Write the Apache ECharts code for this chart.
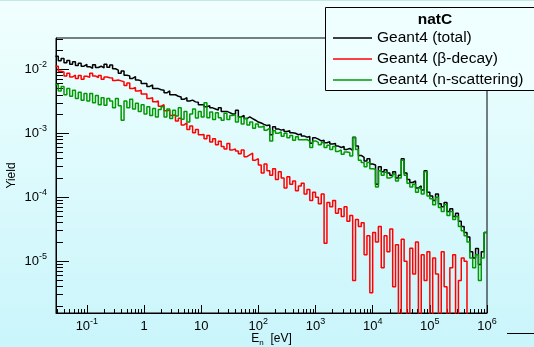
<!DOCTYPE html>
<html><head><meta charset="utf-8">
<script src="https://cdn.jsdelivr.net/npm/echarts@6/dist/echarts.min.js"></script>
<style>html,body{margin:0;padding:0;background:#fff}#c{width:534px;height:347px}</style>
</head><body><div id="c"></div>
<script>
// Histogram binning: log10(E/eV) of first bin edge and bin width (decades)
const binStartExp = -1.55;
const binWidthExp = 0.05;

// Yield per bin (151 bins)
const total = [
1.6e-2,1.36e-2,1.48e-2,1.27e-2,1.38e-2,1.2e-2,1.32e-2,1.15e-2,1.25e-2,1.12e-2,1.2e-2,
1.1e-2,1.04e-2,1.18e-2,1.07e-2,1.12e-2,1.05e-2,1.2e-2,1.08e-2,1.17e-2,1.02e-2,9.7e-3,8.7e-3,9.4e-3,8.1e-3,7.9e-3,7.2e-3,7.7e-3,6.8e-3,6.6e-3,6.0e-3,
6.0e-3,5.4e-3,5.7e-3,5.0e-3,5.0e-3,4.8e-3,4.7e-3,4.3e-3,4.6e-3,4.0e-3,4.0e-3,3.8e-3,3.7e-3,3.4e-3,3.6e-3,3.2e-3,3.3e-3,3.1e-3,3.05e-3,2.8e-3,
2.8e-3,2.6e-3,2.7e-3,2.5e-3,2.4e-3,2.3e-3,2.5e-3,2.2e-3,2.2e-3,2.1e-3,2.0e-3,2.0e-3,2.3e-3,1.8e-3,1.9e-3,1.7e-3,1.8e-3,1.7e-3,1.6e-3,1.5e-3,
1.45e-3,1.38e-3,1.32e-3,1.35e-3,9.5e-4,1.26e-3,1.17e-3,1.12e-3,1.15e-3,1.07e-3,1.10e-3,1.02e-3,1.0e-3,9.5e-4,9.8e-4,9.1e-4,8.7e-4,8.9e-4,7.0e-4,8.5e-4,
8.1e-4,7.6e-4,7.8e-4,7.1e-4,7.4e-4,6.8e-4,6.9e-4,6.3e-4,6.0e-4,6.2e-4,5.6e-4,5.8e-4,5.4e-4,8.7e-4,6.3e-4,4.5e-4,4.2e-4,3.7e-4,4.0e-4,3.3e-4,
3.2e-4,1.6e-4,3.0e-4,2.5e-4,2.7e-4,2.4e-4,2.2e-4,2.5e-4,2.0e-4,2.2e-4,4.0e-4,2.4e-4,1.9e-4,1.7e-4,1.8e-4,1.4e-4,1.5e-4,1.3e-4,2.6e-4,1.2e-4,
1.05e-4,8.9e-5,1.12e-4,7.9e-5,7.1e-5,8.3e-5,6.0e-5,6.6e-5,5.0e-5,5.6e-5,4.2e-5,3.5e-5,2.8e-5,2.4e-5,1.4e-5,1.12e-5,1.58e-5,8.9e-6,1.4e-5,2.8e-5
];
const betaDecay = [
1.12e-2,9.3e-3,9.1e-3,7.9e-3,8.7e-3,7.6e-3,8.1e-3,7.2e-3,8.0e-3,7.0e-3,7.8e-3,
7.5e-3,8.7e-3,7.9e-3,7.4e-3,8.0e-3,7.0e-3,7.6e-3,7.4e-3,7.3e-3,6.7e-3,6.8e-3,6.6e-3,6.4e-3,5.6e-3,6.1e-3,5.0e-3,5.2e-3,4.6e-3,4.7e-3,4.1e-3,
4.1e-3,3.5e-3,3.6e-3,3.1e-3,3.2e-3,2.65e-3,2.8e-3,2.25e-3,2.3e-3,1.9e-3,1.95e-3,1.55e-3,1.72e-3,1.35e-3,1.45e-3,1.15e-3,1.3e-3,1.02e-3,1.15e-3,9.5e-4,
9.6e-4,8.2e-4,9.2e-4,7.3e-4,8.2e-4,6.6e-4,7.5e-4,6.2e-4,5.7e-4,6.9e-4,5.5e-4,5.7e-4,5.3e-4,4.8e-4,5.5e-4,4.3e-4,4.6e-4,4.9e-4,3.8e-4,4.0e-4,
3.2e-4,2.4e-4,3.3e-4,2.6e-4,2.2e-4,2.8e-4,1.9e-4,2.5e-4,2.0e-4,1.4e-4,2.1e-4,1.6e-4,1.8e-4,1.26e-4,1.5e-4,1.66e-4,1.12e-4,1.32e-4,8.9e-5,1.2e-4,
1.0e-4,7.9e-5,1.12e-4,1.9e-5,8.3e-5,7.1e-5,8.9e-5,5.6e-5,6.6e-5,5.0e-5,7.1e-5,4.2e-5,5.2e-5,5.0e-6,4.5e-5,3.5e-5,4.0e-5,1.26e-5,2.5e-5,3.2e-6,
2.8e-5,2.0e-5,3.5e-5,7.9e-6,2.5e-5,1.4e-5,3.2e-5,4.0e-6,1.8e-5,0,2.2e-5,1.0e-5,0,1.6e-5,6.3e-6,2.0e-5,0,1.26e-5,5.0e-6,1.4e-5,
0,1.12e-5,6.3e-6,0,1.4e-5,4.0e-6,0,7.9e-6,1.26e-5,0,5.0e-6,1.12e-5,1.0e-5,0,0,0,0,0,0,0
];
const nScattering = [
5.8e-3,4.6e-3,5.4e-3,4.0e-3,5.0e-3,3.8e-3,4.7e-3,3.5e-3,4.4e-3,3.3e-3,4.2e-3,
3.2e-3,4.2e-3,3.0e-3,3.9e-3,2.8e-3,3.6e-3,2.75e-3,3.5e-3,3.2e-3,2.5e-3,3.5e-3,2.7e-3,1.6e-3,3.2e-3,2.5e-3,3.4e-3,2.4e-3,2.95e-3,2.2e-3,2.8e-3,
2.0e-3,2.6e-3,1.9e-3,2.45e-3,1.8e-3,2.35e-3,2.6e-3,1.8e-3,2.4e-3,1.7e-3,2.3e-3,1.86e-3,2.5e-3,1.66e-3,2.2e-3,1.5e-3,2.0e-3,2.4e-3,1.74e-3,2.2e-3,
1.8e-3,3.0e-3,1.75e-3,2.15e-3,1.65e-3,2.1e-3,1.75e-3,1.6e-3,2.05e-3,1.65e-3,1.9e-3,1.95e-3,1.5e-3,1.8e-3,1.4e-3,1.7e-3,1.35e-3,1.5e-3,1.2e-3,1.4e-3,
1.25e-3,1.3e-3,1.12e-3,1.2e-3,7.6e-4,1.1e-3,1.0e-3,1.05e-3,9.0e-4,1.0e-3,8.5e-4,9.2e-4,7.8e-4,8.8e-4,7.9e-4,7.9e-4,8.0e-4,7.5e-4,6.0e-4,7.6e-4,
7.2e-4,6.6e-4,7.1e-4,6.0e-4,6.5e-4,5.6e-4,6.2e-4,5.2e-4,5.5e-4,4.7e-4,5.1e-4,5.0e-4,4.4e-4,8.5e-4,5.6e-4,3.8e-4,3.5e-4,3.0e-4,3.5e-4,2.8e-4,
2.75e-4,1.45e-4,2.6e-4,2.2e-4,2.45e-4,2.0e-4,2.1e-4,2.3e-4,1.8e-4,2.0e-4,3.8e-4,2.2e-4,1.66e-4,1.45e-4,1.6e-4,1.2e-4,1.4e-4,1.12e-4,2.5e-4,1.05e-4,
9.5e-5,7.6e-5,1.0e-4,6.9e-5,6.0e-5,7.6e-5,5.2e-5,6.0e-5,4.5e-5,5.0e-5,3.5e-5,3.0e-5,2.5e-5,2.0e-5,1.12e-5,7.9e-6,1.26e-5,5.0e-6,1.12e-5,2.8e-5
];

const seriesNames = ['Geant4 (total)', 'Geant4 (β-decay)', 'Geant4 (n-scattering)'];
const legendTitle = 'natC';
// axis ranges (log10) and tick decades
const xRangeExp = [-1.54, 6];
const yRangeExp = [-5.81, -1.51];
const xDecadeTicks = [-1, 0, 1, 2, 3, 4, 5, 6];
const yDecadeTicks = [-5, -4, -3, -2];
const xTitle = 'E';
const xTitleSub = 'n';
const xTitleUnit = '  [eV]';
const yTitle = 'Yield';

const FONT = 'Liberation Sans, Arial, sans-serif';

function minorTicks(range) {
  const out = [];
  for (let n = Math.floor(range[0]) - 1; n <= Math.ceil(range[1]); n++) {
    for (let k = 2; k <= 9; k++) {
      const v = n + Math.log10(k);
      if (v >= range[0] && v <= range[1]) out.push(v);
    }
  }
  return out;
}
function toSteps(vals) {
  const pts = [];
  const y = v => (v > 0 ? Math.log10(v) : -9);
  for (let i = 0; i < vals.length; i++) pts.push([binStartExp + i * binWidthExp, y(vals[i])]);
  pts.push([binStartExp + vals.length * binWidthExp, y(vals[vals.length - 1])]);
  return pts;
}
const rich = {
  b: { fontSize: 13, fontFamily: FONT, color: '#000', lineHeight: 18 },
  s: { fontSize: 9, fontFamily: FONT, color: '#000', verticalAlign: 'top', lineHeight: 10 }
};
function powLabel(v) {
  const e = Math.round(v);
  if (e === 0) return '{b|1}';
  if (e === 1) return '{b|10}';
  return '{b|10}{s|' + e + '}';
}

const chart = echarts.init(document.getElementById('c'), null, { renderer: 'canvas' });
const colors = ['#000000', '#ff0000', '#009900'];
const datasets = [total, betaDecay, nScattering];

chart.setOption({
  animation: false,
  backgroundColor: {
    type: 'linear', x: 0, y: 0, x2: 0, y2: 1,
    colorStops: [{ offset: 0, color: '#f1fffe' }, { offset: 1, color: '#c9f5fb' }]
  },
  grid: { left: 56, top: 38, width: 431, height: 275, show: true, borderColor: '#000', borderWidth: 1,
          backgroundColor: 'transparent', containLabel: false, outerBoundsMode: 'none' },
  xAxis: [{
    type: 'value', min: xRangeExp[0], max: xRangeExp[1],
    axisLine: { onZero: false, lineStyle: { color: '#000', width: 1 } },
    axisTick: { inside: true, length: 8, customValues: xDecadeTicks, lineStyle: { color: '#000' } },
    axisLabel: { customValues: xDecadeTicks, formatter: powLabel, rich: rich, margin: 4 },
    splitLine: { show: false },
    name: '{b|' + xTitle + '}{sub|' + xTitleSub + '}{b|' + xTitleUnit + '}',
    nameLocation: 'middle', nameGap: 18, nameMoveOverlap: false,
    nameTextStyle: { rich: {
      b: { fontSize: 12, fontFamily: FONT, color: '#000', lineHeight: 16 },
      sub: { fontSize: 8, fontFamily: FONT, color: '#000', verticalAlign: 'bottom', lineHeight: 10 }
    } }
  }, {
    type: 'value', min: xRangeExp[0], max: xRangeExp[1], position: 'bottom',
    axisLine: { show: false, onZero: false },
    axisTick: { inside: true, length: 4, customValues: minorTicks(xRangeExp), lineStyle: { color: '#000' } },
    axisLabel: { show: false }, splitLine: { show: false }
  }],
  yAxis: [{
    type: 'value', min: yRangeExp[0], max: yRangeExp[1],
    axisLine: { show: true, onZero: false, lineStyle: { color: '#000', width: 1 } },
    axisTick: { show: true, inside: true, length: 13, customValues: yDecadeTicks, lineStyle: { color: '#000' } },
    axisLabel: { customValues: yDecadeTicks, formatter: powLabel, rich: rich, margin: 9 },
    splitLine: { show: false },
    name: yTitle, nameLocation: 'middle', nameGap: 38, nameMoveOverlap: false,
    nameTextStyle: { fontSize: 12, fontFamily: FONT, color: '#000' }
  }, {
    type: 'value', min: yRangeExp[0], max: yRangeExp[1], position: 'left',
    axisLine: { show: false, onZero: false },
    axisTick: { show: true, inside: true, length: 7, customValues: minorTicks(yRangeExp), lineStyle: { color: '#000' } },
    axisLabel: { show: false }, splitLine: { show: false }
  }],
  legend: {
    left: 333, top: 29, padding: 0, orient: 'vertical', itemWidth: 39, itemHeight: 1.5, itemGap: 3,
    icon: 'rect', selectedMode: false, z: 11,
    textStyle: { fontSize: 15.5, fontFamily: FONT, color: '#000', lineHeight: 18 },
    data: seriesNames
  },
  graphic: [
    { type: 'rect', z: 10, shape: { x: 325.5, y: 7.5, width: 230, height: 83 }, style: { fill: '#effefe', stroke: '#000', lineWidth: 1 } },
    { type: 'text', z: 11, x: 435, y: 20, style: { text: legendTitle, font: 'bold 15.5px ' + FONT, fill: '#000', textAlign: 'center', textVerticalAlign: 'middle' } },
    { type: 'line', z: 11, shape: { x1: 507, y1: 333.5, x2: 534, y2: 333.5 }, style: { stroke: '#000', lineWidth: 1 } },
    { type: 'rect', z: 11, shape: { x: 0, y: 0, width: 534, height: 1 }, style: { fill: '#c4e8e8' } }
  ],
  series: datasets.map((d, i) => ({
    name: seriesNames[i], type: 'line', step: 'end', showSymbol: false, symbol: 'none',
    data: toSteps(d), clip: true, z: 2 + i,
    color: colors[i],
    lineStyle: { color: colors[i], width: 1.5 }
  }))
});
</script>
</body></html>
